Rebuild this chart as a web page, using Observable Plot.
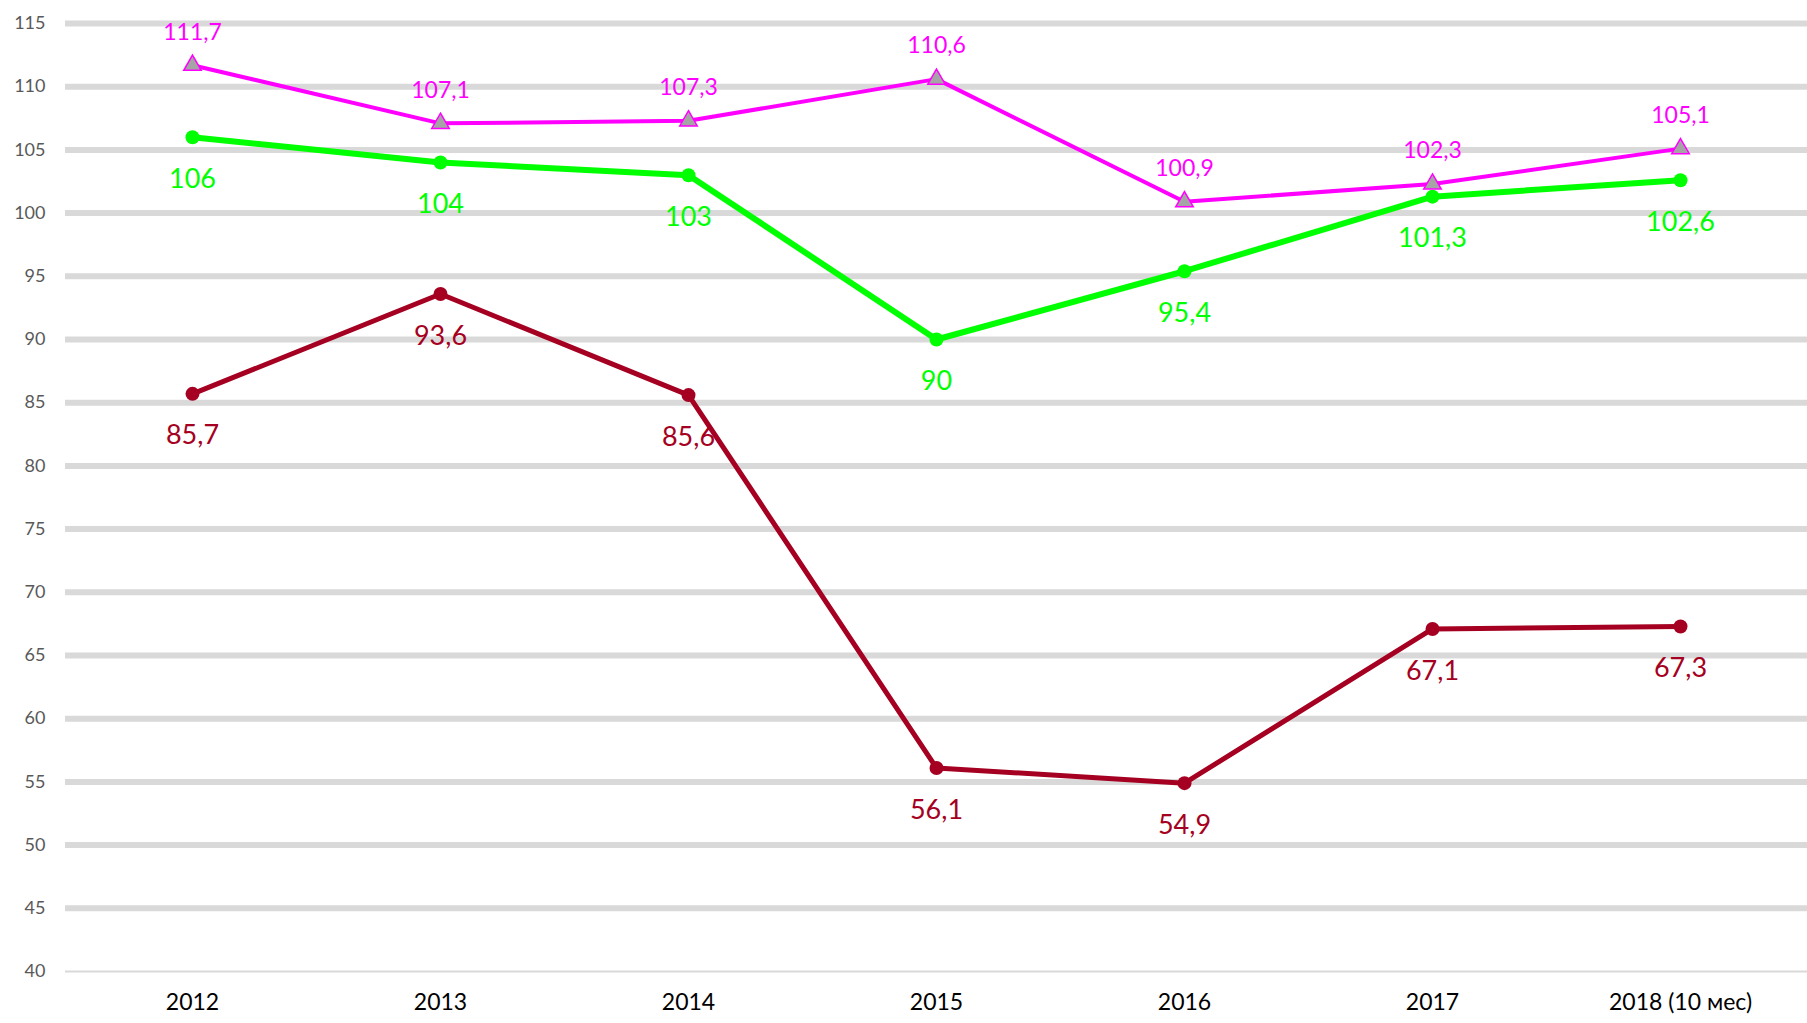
<!DOCTYPE html>
<html>
<head>
<meta charset="utf-8">
<script src="https://cdn.jsdelivr.net/npm/d3@7"></script>
<script src="https://cdn.jsdelivr.net/npm/@observablehq/plot@0.6"></script>
<style>
  html, body { margin: 0; padding: 0; background: #fff; }
  #chart { width: 1807px; height: 1023px; }
</style>
</head>
<body>
<div id="chart"></div>
<script>
const years = ["2012", "2013", "2014", "2015", "2016", "2017", "2018 (10 мес)"];
const magentaValues = [111.7, 107.1, 107.3, 110.6, 100.9, 102.3, 105.1];
const greenValues = [106, 104, 103, 90, 95.4, 101.3, 102.6];
const redValues = [85.7, 93.6, 85.6, 56.1, 54.9, 67.1, 67.3];
const yTicks = [40, 45, 50, 55, 60, 65, 70, 75, 80, 85, 90, 95, 100, 105, 110, 115];

const fmt = v => String(v).replace(".", ",");
const mk = vals => years.map((year, i) => ({year, value: vals[i], label: fmt(vals[i])}));
const magenta = mk(magentaValues);
const green = mk(greenValues);
const red = mk(redValues);

const FONT = 'Lato, "Noto Sans", sans-serif';
const MAGENTA = "#ff00ff", GREEN = "#00ff00", RED = "#a50021";

const chart = Plot.plot({
  width: 1807,
  height: 1023,
  marginLeft: 65,
  marginRight: 0,
  marginTop: 23,
  marginBottom: 52,
  style: {fontFamily: FONT, background: "#fff"},
  x: {type: "point", domain: years, padding: 0.5, label: null},
  y: {domain: [40, 115], label: null},
  marks: [
    Plot.ruleY(yTicks.filter(d => d > 40), {stroke: "#d9d9d9", strokeWidth: 6}),
    Plot.ruleY([40], {stroke: "#d9d9d9", strokeWidth: 2}),
    Plot.axisY({ticks: yTicks, tickSize: 0, tickPadding: 20, fontSize: 18, fill: "#595959", label: null}),
    Plot.axisX({tickSize: 0, tickPadding: 22, fontSize: 23, fill: "#000", label: null}),
    Plot.line(red, {x: "year", y: "value", stroke: RED, strokeWidth: 5}),
    Plot.dot(red, {x: "year", y: "value", r: 7, fill: RED}),
    Plot.line(green, {x: "year", y: "value", stroke: GREEN, strokeWidth: 6}),
    Plot.dot(green, {x: "year", y: "value", r: 7, fill: GREEN}),
    Plot.line(magenta, {x: "year", y: "value", stroke: MAGENTA, strokeWidth: 4}),
    Plot.dot(magenta, {x: "year", y: "value", symbol: "triangle", r: 6.5, fill: "#a5a5a5", stroke: MAGENTA, strokeWidth: 1.5}),
    Plot.text(magenta, {x: "year", y: "value", text: "label", dy: -33, fill: MAGENTA, fontSize: 23}),
    Plot.text(green, {x: "year", y: "value", text: "label", dy: 42, fill: GREEN, fontSize: 27}),
    Plot.text(red, {x: "year", y: "value", text: "label", dy: 42, fill: RED, fontSize: 27})
  ]
});
document.getElementById("chart").appendChild(chart);
</script>
</body>
</html>
